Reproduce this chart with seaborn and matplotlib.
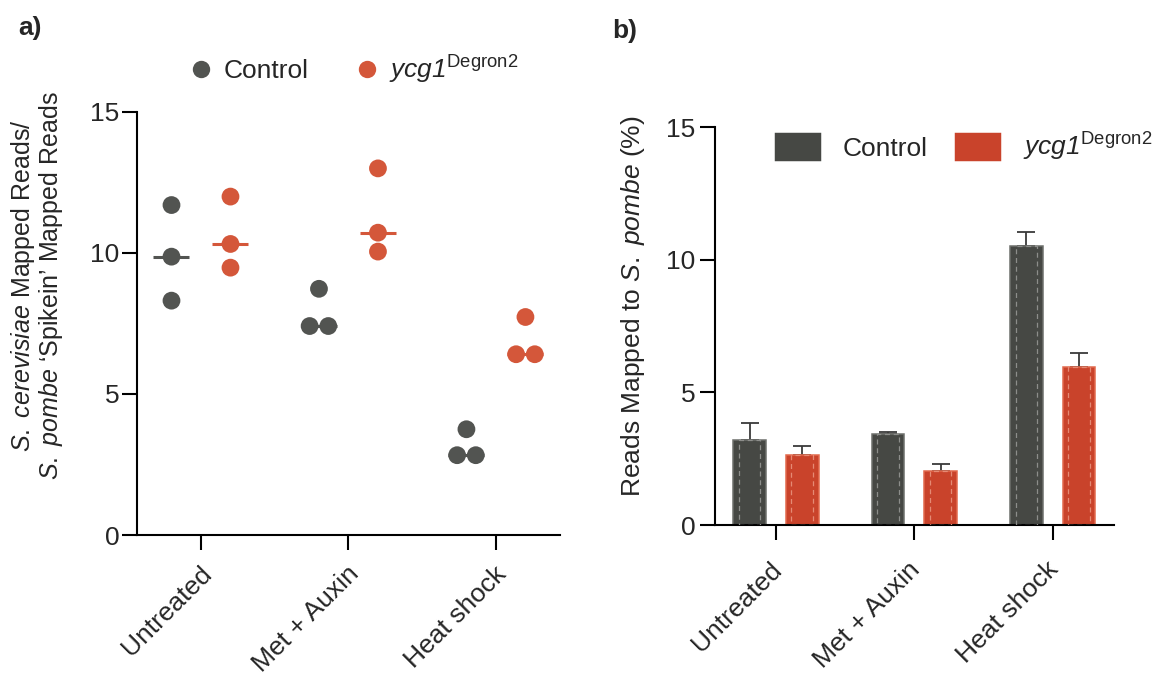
import numpy as np
import pandas as pd
import matplotlib
matplotlib.use("Agg")
import matplotlib.pyplot as plt
import matplotlib.transforms as mtransforms
import seaborn as sns

# ---------------- data ----------------
conditions = ["Untreated", "Met + Auxin", "Heat shock"]
strains = ["Control", "ycg1"]
# panel a: replicate ratios S. cerevisiae / S. pombe reads
ratio_control = [[11.70, 9.87, 8.31], [8.73, 7.41, 7.41], [3.75, 2.83, 2.83]]
ratio_ycg1 = [[12.00, 10.32, 9.48], [13.00, 10.72, 10.05], [7.73, 6.41, 6.41]]
# panel b: reads mapped to S. pombe (%) mean and SD
pct_control = [3.19, 3.42, 10.50]
pct_ycg1 = [2.65, 2.02, 5.94]
sd_control = [0.65, 0.08, 0.53]
sd_ycg1 = [0.34, 0.28, 0.54]
yticks = [0, 5, 10, 15]

# ---------------- style ----------------
sns.set_style("ticks")
plt.rcParams["font.family"] = ["Liberation Sans", "DejaVu Sans"]
plt.rcParams["mathtext.fontset"] = "custom"
plt.rcParams["mathtext.rm"] = "Liberation Sans"
plt.rcParams["mathtext.it"] = "Liberation Sans:italic"
plt.rcParams["mathtext.sf"] = "Liberation Sans:italic"
plt.rcParams["mathtext.bf"] = "Liberation Sans:bold"

YCG = r"$\mathsf{ycg1}^{\mathrm{Degron2}}$"
label_map = {"Control": "Control", "ycg1": YCG}

pt_colors = {"Control": "#525451", "ycg1": "#d4573a"}
bar_colors = {"Control": "#464844", "ycg1": "#c9432b"}
edge_colors = ["#6e706c", "#e2694d"]
inner_colors = {"Control": "#8d8e8b", "ycg1": "#e58a74"}

rows = []
for s, arr in zip(strains, [ratio_control, ratio_ycg1]):
    for c, vals in zip(conditions, arr):
        for v in vals:
            rows.append({"condition": c, "strain": s, "ratio": v})
df_a = pd.DataFrame(rows)

rows = []
for s, m, e in zip(strains, [pct_control, pct_ycg1], [sd_control, sd_ycg1]):
    for c, mv, ev in zip(conditions, m, e):
        rows.append({"condition": c, "strain": s, "pct": mv, "sd": ev})
df_b = pd.DataFrame(rows)

fig = plt.figure(figsize=(11.55, 6.75), dpi=100)
ax_a = fig.add_axes([0.1186, 0.2074, 0.3662, 0.6267])
ax_b = fig.add_axes([0.619, 0.2222, 0.3455, 0.5896])

# ---------------- panel a ----------------
sns.pointplot(data=df_a, x="condition", y="ratio", hue="strain", order=conditions,
              hue_order=strains, palette=pt_colors, estimator="median", errorbar=None,
              markers="_", linestyles="none", dodge=0.4, markersize=26,
              markeredgewidth=2.2, legend=False, ax=ax_a, zorder=1)
sns.swarmplot(data=df_a, x="condition", y="ratio", hue="strain", order=conditions,
              hue_order=strains, palette=pt_colors, dodge=True, size=12.8,
              linewidth=0, ax=ax_a, zorder=3)

ax_a.set_xlim(-0.434, 2.434)
ax_a.set_ylim(0, 15)
ax_a.set_yticks(yticks)
ax_a.set_xlabel("")
ax_a.set_ylabel(r"$\mathit{S.\ cerevisiae}$ Mapped Reads/" + "\n"
                + r"$\mathit{S.\ pombe}$ ‘Spikein’ Mapped Reads", fontsize=18,
                linespacing=1.0)
ax_a.yaxis.set_label_coords(-0.17, 0.59)

h, l = ax_a.get_legend_handles_labels()
for hh in h:
    try:
        hh.set_markersize(12.5)
    except Exception:
        pass
ax_a.legend(h, [label_map[x] for x in l], loc="center", bbox_to_anchor=(0.515, 1.10),
            ncol=2, frameon=False, fontsize=19, handlelength=0.8, handletextpad=0.45,
            columnspacing=1.8, borderpad=0)

# ---------------- panel b ----------------
sns.barplot(data=df_b, x="condition", y="pct", hue="strain", order=conditions,
            hue_order=strains, palette=bar_colors, saturation=1, width=0.76, gap=0.38,
            linewidth=1.1, errorbar=None, ax=ax_b, zorder=2)
for cont, ec in zip(ax_b.containers, edge_colors):
    for p in cont:
        p.set_edgecolor(ec)
for cont, s in zip(ax_b.containers, strains):
    sub = df_b[df_b["strain"] == s].set_index("condition").loc[conditions]
    xs = [p.get_x() + p.get_width() / 2 for p in cont]
    ys = [p.get_height() for p in cont]
    ax_b.errorbar(xs, ys, yerr=[np.zeros(len(xs)), sub["sd"].values], fmt="none",
                  ecolor="#3a3a3a", elinewidth=1.3, capsize=6.5, capthick=1.3, zorder=1)

sns.barplot(data=df_b, x="condition", y="pct", hue="strain", order=conditions,
            hue_order=strains, palette=inner_colors, saturation=1, width=0.76, gap=0.59,
            fill=False, linewidth=0.9, linestyle=(0, (4, 3)), errorbar=None,
            legend=False, ax=ax_b, zorder=3)

ax_b.set_xlim(-0.441, 2.444)
ax_b.set_ylim(0, 15)
ax_b.set_yticks(yticks)
ax_b.set_xlabel("")
ax_b.set_ylabel(r"Reads Mapped to $\mathit{S.\ pombe}$ (%)", fontsize=19)
ax_b.yaxis.set_label_coords(-0.17, 0.55)

h, l = ax_b.get_legend_handles_labels()
h, l = h[:2], l[:2]
ax_b.legend(h, [label_map[x] for x in l], loc="upper left", bbox_to_anchor=(0.148, 0.99),
            ncol=2, frameon=False, fontsize=19, handlelength=1.8, handleheight=1.35,
            handletextpad=0.8, columnspacing=1.0, borderpad=0, borderaxespad=0)

for ax, xpad, dx, ypad in ((ax_a, 14.5, 5, 1.5), (ax_b, 18.5, 1.5, 3)):
    sns.despine(ax=ax)
    for sp in ("left", "bottom"):
        ax.spines[sp].set_linewidth(1.5)
        ax.spines[sp].set_color("black")
    ax.tick_params(axis="both", length=11, width=1.5, color="black")
    ax.tick_params(axis="y", labelsize=19, pad=ypad)
    ax.tick_params(axis="x", labelsize=19, pad=xpad)
    off = mtransforms.ScaledTranslation(dx / 72, 0, fig.dpi_scale_trans)
    for t in ax.get_xticklabels():
        t.set_rotation(45)
        t.set_ha("right")
        t.set_va("center")
        t.set_rotation_mode("anchor")
        t.set_transform(t.get_transform() + off)

fig.text(18 / 1155, 1 - 28 / 675, "a)", fontsize=19, fontweight="bold", va="center")
fig.text(612 / 1155, 1 - 31 / 675, "b)", fontsize=19, fontweight="bold", va="center")

# lay out the swarm once, then centre tied points symmetrically on their group position
fig.canvas.draw()
for coll in ax_a.collections:
    pts = np.asarray(coll.get_offsets()).copy()
    if len(pts) == 0:
        continue
    if "draw" in coll.__dict__:
        del coll.draw
    cx = np.median(pts[:, 0])
    yv = pts[:, 1]
    done = np.zeros(len(yv), bool)
    for i in range(len(yv)):
        if done[i]:
            continue
        idx = np.where(np.isclose(yv, yv[i]))[0]
        done[idx] = True
        if len(idx) > 1:
            pts[idx, 0] += cx - pts[idx, 0].mean()
    coll.set_offsets(pts)

fig.savefig("out.png", dpi=100)
